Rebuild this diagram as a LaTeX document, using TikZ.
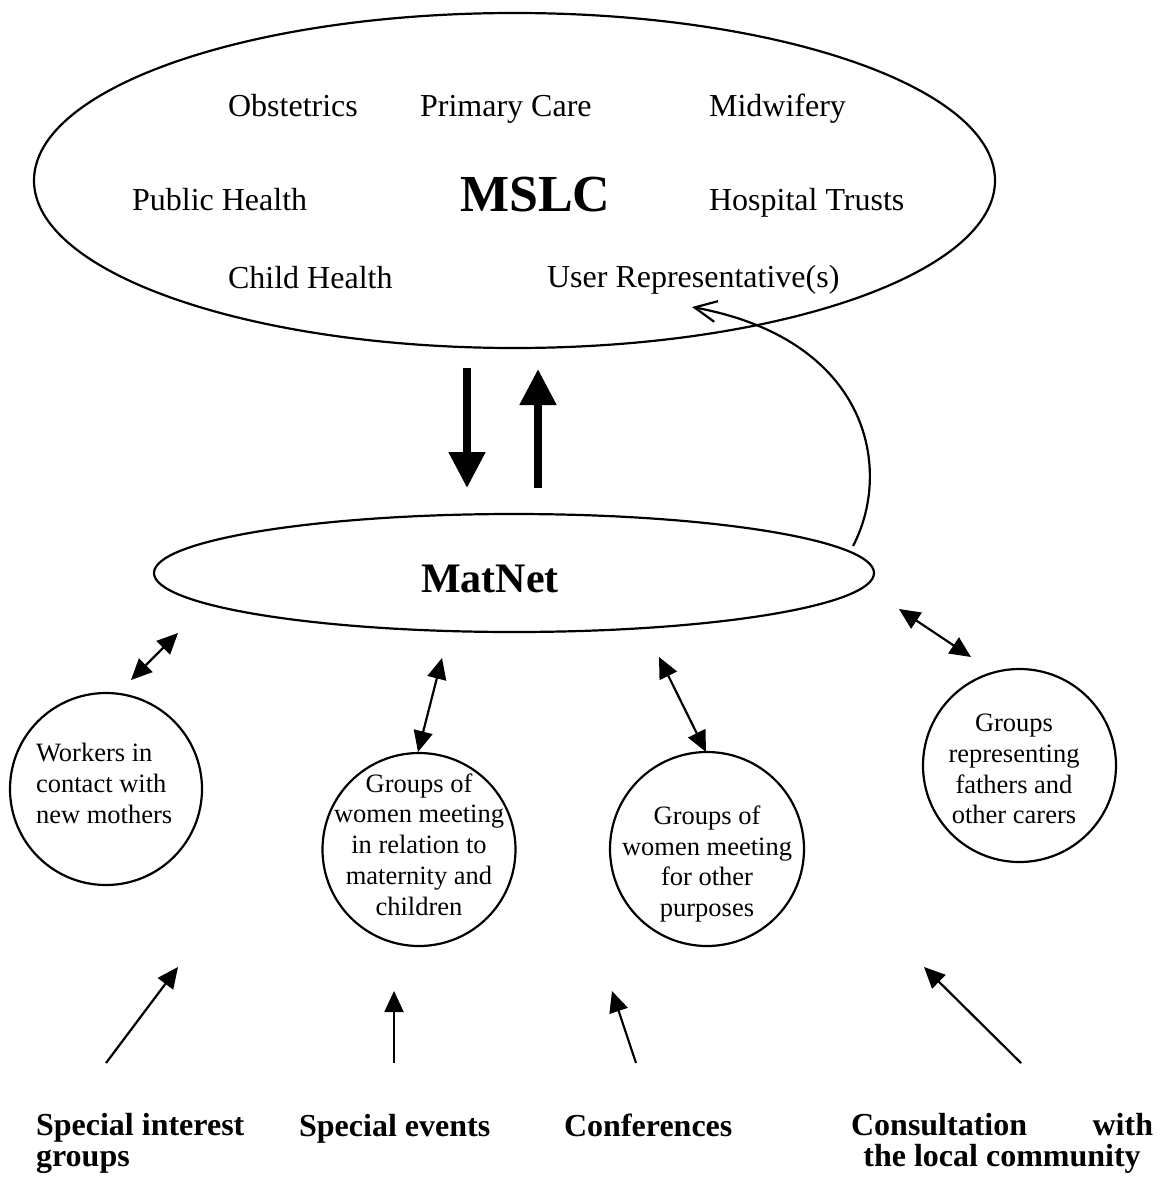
\documentclass[tikz,border=0pt]{standalone}
\usepackage{fontspec}
\setmainfont{Liberation Serif}
\usetikzlibrary{arrows.meta,shapes.geometric}
\begin{document}
\begin{tikzpicture}[x=0.5pt,y=-0.5pt,
  line width=1.1pt,
  ell/.style={draw, ellipse, inner sep=0pt},
  circ/.style={draw, circle, inner sep=0pt},
  lbl/.style={inner sep=0pt, anchor=base west, font=\fontsize{16}{19}\selectfont},
  ctext/.style={inner sep=0pt, font=\fontsize{13.25}{15.4}\selectfont},
  btext/.style={inner sep=0pt, font=\fontsize{16}{15.5}\selectfont\bfseries},
  uparrow/.style={-{Triangle[length=10.5pt,width=9.5pt]}},
  dblarrow/.style={{Triangle[length=10.5pt,width=9.5pt]}-{Triangle[length=10.5pt,width=9.5pt]}},
  fatarrow/.style={line width=4pt,-{Triangle[length=18pt,width=17.5pt]}},
  openarrow/.style={-{Straight Barb[length=11pt,width=10.5pt]}}
]
\path[use as bounding box, fill=white] (0,0) rectangle (1160,1177);

% MSLC ellipse
\node[ell, minimum width=480.5pt, minimum height=167.5pt] (mslc) at (514.5,180.5) {};
\node[lbl] (obst) at (227,117) {Obstetrics};
\node[lbl] (prim) at (419,117) {Primary Care};
\node[lbl] (midw) at (708,117) {Midwifery};
\node[lbl] (pubh) at (131,210) {Public Health};
\node[lbl, font=\fontsize{26}{30}\selectfont\bfseries] (mslct) at (459,211) {MSLC};
\node[lbl] (hosp) at (708,210) {Hospital Trusts};
\node[lbl] (chil) at (227,288) {Child Health};
\node[lbl] (user) at (546,287) {User Representative(s)};

% MatNet ellipse
\node[ell, minimum width=360pt, minimum height=59pt] (matnet) at (514,573) {};
\node[lbl, font=\fontsize{21}{25}\selectfont\bfseries] (matnett) at (420,592) {MatNet};

% thick arrows
\coordinate (dA) at (467,368); \coordinate (dB) at (467,488);
\coordinate (uA) at (538,488); \coordinate (uB) at (538,369);
\draw[fatarrow] (dA) -- (dB);
\draw[fatarrow] (uA) -- (uB);

% curved arrow to user representatives
\coordinate (cS) at (853,546); \coordinate (cE) at (692,307);
\draw[openarrow] (cS) .. controls (893,470) and (870,340) .. (cE);

% circles
\node[circ, minimum size=96pt] (c1) at (106,789) {};
\node[circ, minimum size=96.5pt] (c2) at (419,849.5) {};
\node[circ, minimum size=97pt] (c3) at (707,849) {};
\node[circ, minimum size=96.5pt] (c4) at (1019.5,765.5) {};

\node[ctext, align=left, anchor=west] (t1) at (35,783.5) {Workers in\\contact with\\new mothers};
\node[ctext, align=center] (t2) at (419,844.5) {Groups of\\women meeting\\in relation to\\maternity and\\children};
\node[ctext, align=center] (t3) at (707,864) {Groups of\\women meeting\\for other\\purposes};
\node[ctext, align=center] (t4) at (1014,769) {Groups\\representing\\fathers and\\other carers};

% double arrows
\coordinate (d1a) at (178,633); \coordinate (d1b) at (131,680);
\coordinate (d2a) at (442,658); \coordinate (d2b) at (418,752);
\coordinate (d3a) at (659,657); \coordinate (d3b) at (706,752);
\coordinate (d4a) at (899,609); \coordinate (d4b) at (971,657);
\draw[dblarrow] (d1a) -- (d1b);
\draw[dblarrow] (d2a) -- (d2b);
\draw[dblarrow] (d3a) -- (d3b);
\draw[dblarrow] (d4a) -- (d4b);

% bottom arrows
\coordinate (b1s) at (106,1063); \coordinate (b1e) at (178,967);
\coordinate (b2s) at (394,1063); \coordinate (b2e) at (394,991);
\coordinate (b3s) at (636,1063); \coordinate (b3e) at (612,991);
\coordinate (b4s) at (1021,1063); \coordinate (b4e) at (924,967);
\draw[uparrow] (b1s) -- (b1e);
\draw[uparrow] (b2s) -- (b2e);
\draw[uparrow] (b3s) -- (b3e);
\draw[uparrow] (b4s) -- (b4e);

% bottom labels
\node[btext, align=left, anchor=north west] (l1) at (35,1112) {Special interest\\groups};
\node[btext, anchor=base west] (l2) at (298,1136) {Special events};
\node[btext, anchor=base west] (l3) at (563,1136) {Conferences};
\node[btext, align=center, anchor=north west] (l4) at (850,1112) {\makebox[151pt]{Consultation\hfill with}\\the local community};
\end{tikzpicture}
\end{document}
